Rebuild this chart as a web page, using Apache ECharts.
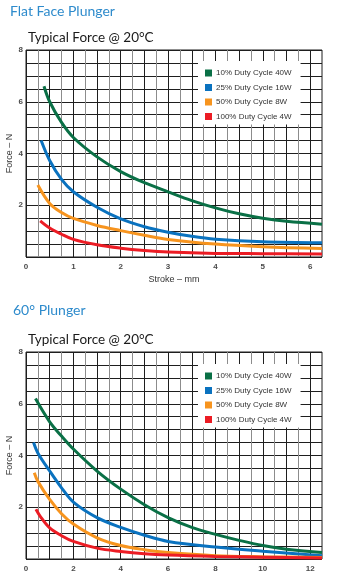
<!DOCTYPE html>
<html><head><meta charset="utf-8">
<script src="https://cdn.jsdelivr.net/npm/echarts@6/dist/echarts.min.js"></script>
<style>html,body{margin:0;padding:0;background:#fff}#c{width:344px;height:578px}</style>
</head><body><div id="c"></div>
<script>
// ---- Data ----
const seriesNames = ['10% Duty Cycle 40W', '25% Duty Cycle 16W', '50% Duty Cycle 8W', '100% Duty Cycle 4W'];
const seriesColors = ['#0a7046', '#0a72bf', '#f7941e', '#ec1c24'];

// Flat Face Plunger (stroke mm, force N)
const ffGreenX  = [0.38, 0.5, 0.75, 1, 1.5, 2, 2.5, 3, 3.5, 4, 4.5, 5, 5.5, 6.25];
const ffGreenY  = [6.6, 6.0, 5.2, 4.62, 3.87, 3.3, 2.87, 2.52, 2.18, 1.9, 1.67, 1.5, 1.38, 1.27];
const ffBlueX   = [0.32, 0.5, 0.75, 1, 1.5, 2, 2.5, 3, 3.5, 4, 5, 6.25];
const ffBlueY   = [4.5, 3.73, 3.0, 2.52, 1.92, 1.47, 1.17, 0.96, 0.8, 0.69, 0.59, 0.55];
const ffOrangeX = [0.25, 0.5, 0.75, 1, 1.5, 2, 2.5, 3, 4, 5, 6.25];
const ffOrangeY = [2.78, 2.07, 1.72, 1.49, 1.22, 1.02, 0.84, 0.68, 0.5, 0.4, 0.33];
const ffRedX    = [0.3, 0.5, 0.75, 1, 1.5, 2, 2.5, 3, 4, 5, 6.25];
const ffRedY    = [1.4, 1.12, 0.88, 0.68, 0.47, 0.34, 0.25, 0.19, 0.14, 0.13, 0.12];

// 60° Plunger
const sGreenX  = [0.4, 1, 1.5, 2, 3, 4, 5, 6, 7, 8, 9, 10, 11, 12.5];
const sGreenY  = [6.2, 5.3, 4.75, 4.25, 3.4, 2.7, 2.1, 1.6, 1.22, 0.95, 0.72, 0.52, 0.38, 0.25];
const sBlueX   = [0.32, 0.5, 1, 1.5, 2, 3, 4, 5, 6, 8, 10, 12.5];
const sBlueY   = [4.5, 4.1, 3.4, 2.75, 2.2, 1.6, 1.22, 0.92, 0.68, 0.46, 0.3, 0.13];
const sOrangeX = [0.35, 0.5, 1, 1.5, 2, 3, 4, 5, 6, 8, 10, 12.5];
const sOrangeY = [3.33, 3.0, 2.3, 1.75, 1.35, 0.82, 0.52, 0.36, 0.25, 0.13, 0.09, 0.06];
const sRedX    = [0.42, 0.6, 1, 1.5, 2, 3, 4, 5, 6, 8, 10, 12.5];
const sRedY    = [1.92, 1.65, 1.2, 0.9, 0.68, 0.42, 0.29, 0.2, 0.15, 0.1, 0.07, 0.04];

const titles = ['Flat Face Plunger', '60° Plunger'];
const subTitle = 'Typical Force @ 20°C';
const yName = 'Force – N';
const xName = 'Stroke – mm';

// ---- Build ----
const zip = (xs, ys) => xs.map((x, i) => [x, ys[i]]);
const chart1 = [zip(ffGreenX, ffGreenY), zip(ffBlueX, ffBlueY), zip(ffOrangeX, ffOrangeY), zip(ffRedX, ffRedY)];
const chart2 = [zip(sGreenX, sGreenY), zip(sBlueX, sBlueY), zip(sOrangeX, sOrangeY), zip(sRedX, sRedY)];

const labelStyle = { fontSize: 8, fontWeight: 'bold', color: '#4a4a4a', fontFamily: 'Liberation Sans' };
function xAxis(gi, max, interval, step, gap) {
  return {
    type: 'value', gridIndex: gi, min: 0, max: max, interval: interval,
    name: xName, nameLocation: 'middle', nameGap: gap, nameMoveOverlap: false,
    nameTextStyle: { fontSize: 9, color: '#333', fontFamily: 'Liberation Sans' },
    axisLine: { show: false }, axisTick: { show: false },
    axisLabel: Object.assign({ margin: 6, showMaxLabel: true, hideOverlap: false,
      formatter: v => (Math.abs(v / step - Math.round(v / step)) < 1e-6 ? String(Math.round(v)) : '') }, labelStyle),
    splitLine: { show: true, lineStyle: { color: ['#1e1e1e', '#8c8c8c'], width: 1 } }
  };
}
function yAxis(gi) {
  return {
    type: 'value', gridIndex: gi, min: 0, max: 8, interval: 0.5,
    name: yName, nameLocation: 'middle', nameGap: 12, nameRotate: 90, nameMoveOverlap: false,
    nameTextStyle: { fontSize: 9, color: '#333', fontFamily: 'Liberation Sans' },
    axisLine: { show: false }, axisTick: { show: false },
    axisLabel: Object.assign({ margin: 3,
      formatter: v => (v > 0 && Math.abs(v / 2 - Math.round(v / 2)) < 1e-6 ? String(v) : '') }, labelStyle),
    splitLine: { show: true, lineStyle: { color: '#1e1e1e', width: 1 } }
  };
}
const series = [];
[chart1, chart2].forEach((c, gi) => {
  c.forEach((data, i) => {
    series.push({
      type: 'line', name: seriesNames[i], xAxisIndex: gi, yAxisIndex: gi,
      data: data, smooth: 0.35, showSymbol: false, symbol: 'none',
      lineStyle: { color: seriesColors[i], width: 3 }, itemStyle: { color: seriesColors[i] },
      clip: true, z: 3
    });
  });
});
function legend(top) {
  return {
    data: seriesNames.map((n, i) => ({ name: n, icon: 'rect', itemStyle: { color: seriesColors[i] } })),
    orient: 'vertical', left: 198, top: top, itemWidth: 7, itemHeight: 7, itemGap: 4.5,
    backgroundColor: '#fff', padding: [7, 9, 3, 7], selectedMode: false,
    textStyle: { fontSize: 8, color: '#333', fontFamily: 'Liberation Sans', lineHeight: 10, padding: [0, 0, 0, -1] }
  };
}
const tStyle = (size, color) => ({ fontSize: size, fontWeight: 'normal', color: color, fontFamily: 'Lato' });
const option = {
  animation: false,
  title: [
    { text: titles[0], left: 10, top: 4, padding: 0, textStyle: tStyle(14, '#2e8bcc') },
    { text: subTitle, left: 28, top: 31, padding: 0, textStyle: tStyle(13.5, '#1a1a1a') },
    { text: titles[1], left: 13, top: 303, padding: 0, textStyle: tStyle(14, '#2e8bcc') },
    { text: subTitle, left: 28, top: 333, padding: 0, textStyle: tStyle(13.5, '#1a1a1a') }
  ],
  grid: [
    { left: 26, top: 50, width: 296, height: 207, show: true, borderColor: '#1e1e1e', borderWidth: 1, backgroundColor: '#fff', containLabel: false, outerBoundsMode: 'none' },
    { left: 26, top: 352, width: 296, height: 207, show: true, borderColor: '#1e1e1e', borderWidth: 1, backgroundColor: '#fff', containLabel: false, outerBoundsMode: 'none' }
  ],
  xAxis: [xAxis(0, 6.25, 0.25, 1, 18), xAxis(1, 12.5, 0.5, 2, 19)],
  yAxis: [yAxis(0), yAxis(1)],
  legend: [legend(61), legend(364)],
  series: series
};
const chart = echarts.init(document.getElementById('c'), null, { renderer: 'canvas' });
chart.setOption(option);
</script></body></html>
